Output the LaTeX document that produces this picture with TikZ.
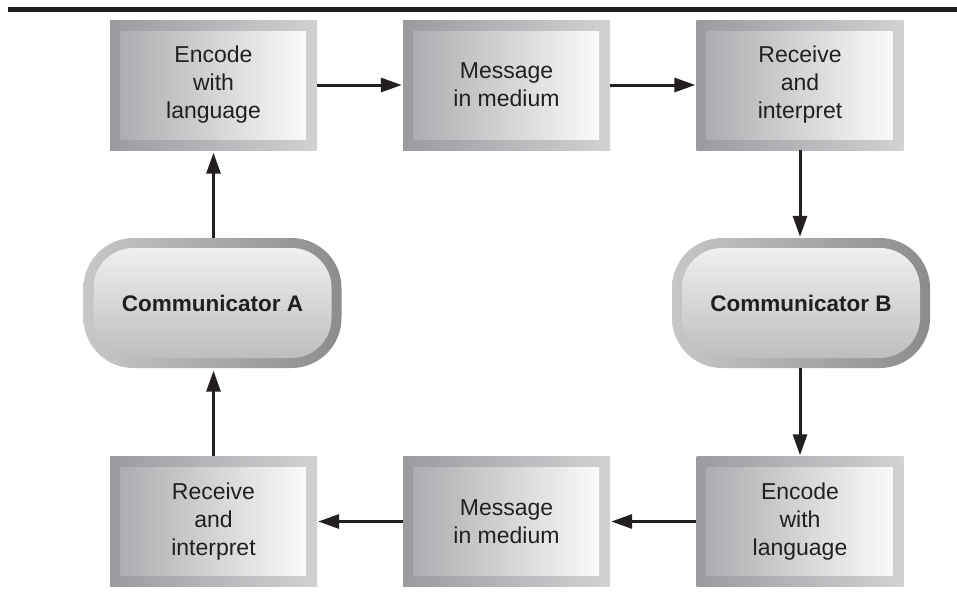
\documentclass[tikz,border=0pt]{standalone}
\usepackage{fontspec}
\setmainfont{Liberation Sans}
\usetikzlibrary{arrows.meta}

\definecolor{ink}{HTML}{231F20}
\definecolor{frameL}{HTML}{9A9B9E}
\definecolor{frameR}{HTML}{D1D2D4}
\definecolor{innerL}{HTML}{A8A9AC}
\definecolor{innerR}{HTML}{FFFFFF}
\definecolor{ringL}{HTML}{C6C7C9}
\definecolor{ringR}{HTML}{8B8C8E}
\definecolor{pillTop}{HTML}{F4F4F4}
\definecolor{pillBot}{HTML}{B8B9BB}

\tikzset{
  stepbox/.style={
    minimum width=207pt, minimum height=130pt, inner sep=0pt,
    left color=frameL, right color=frameR,
    align=center, text=ink,
    font=\fontsize{23}{28}\selectfont,
    path picture={
      \shade[left color=innerL, right color=innerR]
        ([shift={(10pt,11pt)}]path picture bounding box.south west) rectangle
        ([shift={(-11pt,-11pt)}]path picture bounding box.north east);
    }
  },
  pill/.style={
    minimum width=258pt, minimum height=130pt, inner sep=0pt,
    rounded corners=50pt,
    left color=ringL, right color=ringR,
    text=ink, font=\fontsize{22.5}{27}\selectfont\bfseries,
    path picture={
      \shade[top color=pillTop, bottom color=pillBot, rounded corners=40pt]
        ([shift={(10pt,10pt)}]path picture bounding box.south west) rectangle
        ([shift={(-10pt,-10pt)}]path picture bounding box.north east);
    }
  },
  flow/.style={
    draw=ink, line width=3pt,
    -{Triangle[length=21pt,width=14pt]}
  },
  rule/.style={draw=ink, line width=4.5pt}
}

\begin{document}
\begin{tikzpicture}[x=1pt, y=-1pt]
  \useasboundingbox (0,0) rectangle (957,592);

  % heading rule
  \coordinate (ruleL) at (8,9.3);
  \coordinate (ruleR) at (957,9.3);
  \draw[rule] (ruleL) -- (ruleR);

  % sending chain of A (top row)
  \node[stepbox] (encA) at (213.5,85)  {Encode\\with\\language};
  \node[stepbox] (medA) at (506.5,85)  {Message\\in medium};
  \node[stepbox] (recB) at (800,85)    {Receive\\and\\interpret};

  % the two communicators
  \node[pill] (comA) at (212.5,303) {Communicator A};
  \node[pill] (comB) at (801,303)   {Communicator B};

  % sending chain of B (bottom row)
  \node[stepbox] (encB) at (800,521.5)   {Encode\\with\\language};
  \node[stepbox] (medB) at (506.5,521.5) {Message\\in medium};
  \node[stepbox] (recA) at (213.5,521.5) {Receive\\and\\interpret};

  % connectors (vertical ones follow the column of the boxes)
  \draw[flow, shorten >=2.5pt] (encA.south |- comA.north) -- (encA.south);
  \draw[flow, shorten >=1pt] (encA.east) -- (medA.west);
  \draw[flow, shorten >=1pt] (medA.east) -- (recB.west);
  \draw[flow, shorten >=1pt] (recB.south) -- (recB.south |- comB.north);
  \draw[flow, shorten >=1pt] (encB.north |- comB.south) -- (encB.north);
  \draw[flow, shorten >=1pt] (encB.west) -- (medB.east);
  \draw[flow, shorten >=1pt] (medB.west) -- (recA.east);
  \draw[flow, shorten >=2.5pt] (recA.north) -- (recA.north |- comA.south);
\end{tikzpicture}
\end{document}
